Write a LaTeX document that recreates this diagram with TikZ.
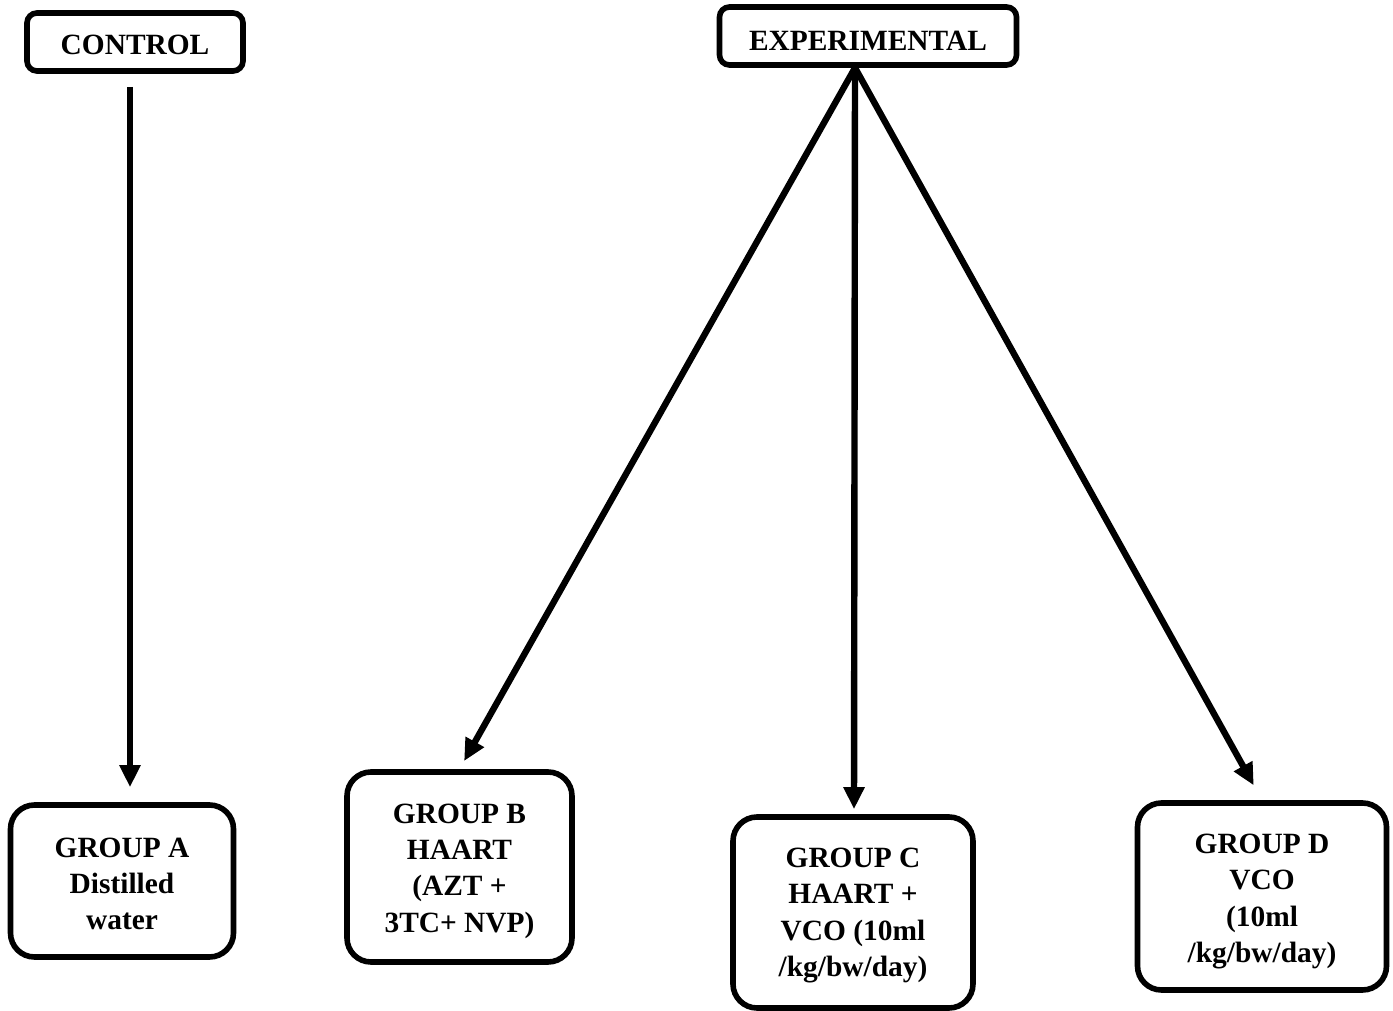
\documentclass[tikz,border=0pt]{standalone}
\usepackage{fontspec}
\setmainfont{Liberation Serif}
\usetikzlibrary{calc}
\usetikzlibrary{arrows.meta}

\tikzset{
  grpbox/.style={draw=black, line width=2.8pt, rounded corners=12pt, inner sep=0pt},
  headbox/.style={draw=black, line width=2.8pt, rounded corners=5pt, inner sep=0pt},
  boxtext/.style={align=center, inner sep=0pt, font=\fontsize{14.7pt}{18.2pt}\selectfont\bfseries},
  arr/.style={line width=3.2pt, -{Triangle[length=11pt,width=10pt]}}
}

\begin{document}
\begin{tikzpicture} [x=0.5pt, y=-0.5pt]
\useasboundingbox (0,0) rectangle (1393,1011);
% top boxes
\node[headbox, minimum width=108pt, minimum height=29pt] (ctrl) at (135,42) {};
\node[boxtext] (ctrltxt) at ([yshift=-1.5pt]ctrl.center) {CONTROL};
\node[headbox, minimum width=148.5pt, minimum height=29pt] (expt) at (868,36) {};
\node[boxtext] (expttxt) at ([yshift=-2.5pt]expt.center) {EXPERIMENTAL};
% groups
\node[grpbox, minimum width=111.5pt, minimum height=76pt] (grpA) at (122,881) {};
\node[boxtext] (grpAtxt) at ([yshift=-1.5pt]grpA.center) {GROUP A\\Distilled\\water};
\node[grpbox, minimum width=112.5pt, minimum height=95pt] (grpB) at (459.5,867) {};
\node[boxtext] (grpBtxt) at ([yshift=-2pt]grpB.center) {GROUP B\\HAART\\(AZT +\\3TC+ NVP)};
\node[grpbox, minimum width=120pt, minimum height=95.5pt] (grpC) at (853,912.5) {};
\node[boxtext] (grpCtxt) at ([yshift=-1.5pt]grpC.center) {GROUP C\\HAART +\\VCO (10ml\\/kg/bw/day)};
\node[grpbox, minimum width=124.5pt, minimum height=93.5pt] (grpD) at (1262,896.5) {};
\node[boxtext] (grpDtxt) at ([yshift=-2.5pt]grpD.center) {GROUP D\\VCO\\(10ml\\/kg/bw/day)};
% arrows
\coordinate (hub) at ([xshift=-6.5pt]expt.south);
\draw[arr, shorten <=6.5pt, shorten >=7.5pt] ([xshift=-2.5pt]ctrl.south) -- ([xshift=-2.5pt]ctrl.south |- grpA.north);
\draw[arr, shorten >=4.7pt] (hub) -- (grpB.north);
\draw[arr, shorten >=2.5pt] (hub) -- ([xshift=0.5pt]grpC.north);
\draw[arr, shorten >=8.5pt] (hub) -- (grpD.north);
\end{tikzpicture}
\end{document}
